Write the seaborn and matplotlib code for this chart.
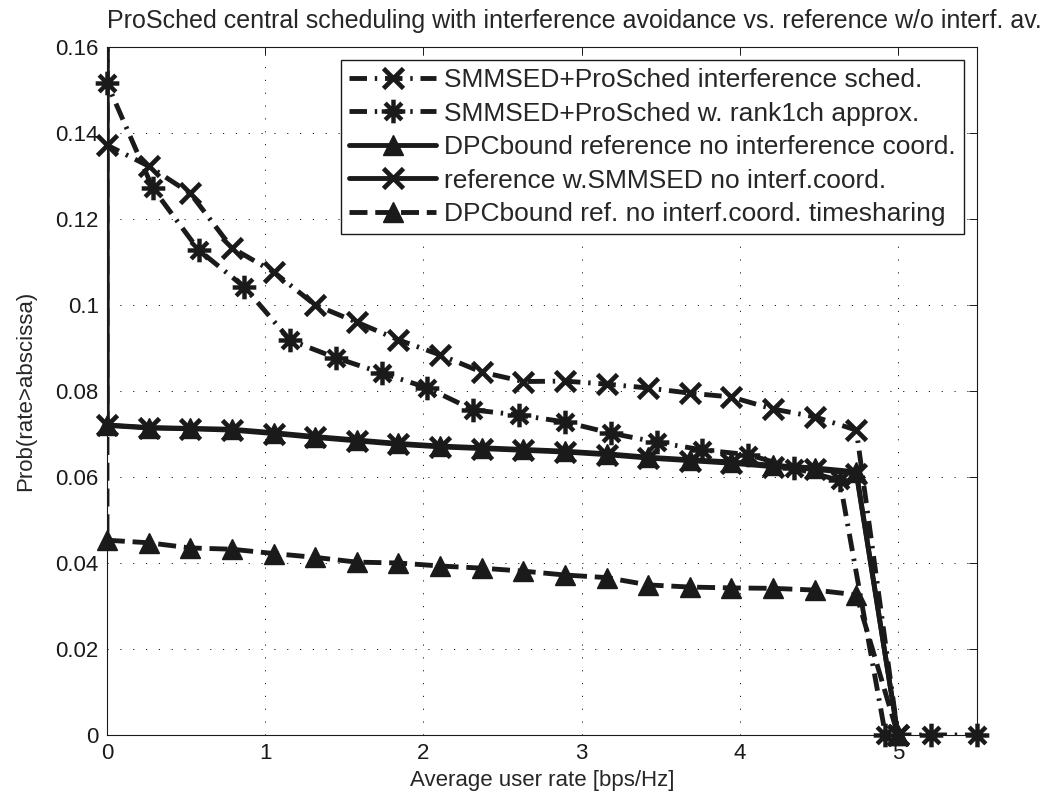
import matplotlib
matplotlib.use("Agg")
import matplotlib.pyplot as plt
from matplotlib.path import Path
from matplotlib.lines import Line2D
from matplotlib.ticker import FuncFormatter
import seaborn as sns

# ---- data -------------------------------------------------------------
# rate grid shared by the ProSched X-curve and the reference curves
rate_grid = [0.0, 0.263, 0.526, 0.789, 1.053, 1.316, 1.579, 1.842, 2.105, 2.368,
             2.632, 2.895, 3.158, 3.421, 3.684, 3.947, 4.211, 4.474, 4.737, 5.0]
# rate grid of the rank-1 approximation curve
rate_grid_r1 = [0.0, 0.289, 0.579, 0.868, 1.158, 1.447, 1.737, 2.026, 2.316, 2.605,
                2.895, 3.184, 3.474, 3.763, 4.053, 4.342, 4.632, 4.921, 5.211, 5.5]

# probability that rate exceeds abscissa (curves start at 1 for rate 0)
prob_at_zero = 1.0

prosched_interf = [0.1372, 0.1323, 0.1260, 0.1133, 0.1077, 0.1000, 0.0960, 0.0919,
                   0.0884, 0.0844, 0.0822, 0.0823, 0.0816, 0.0807, 0.0795, 0.0786,
                   0.0758, 0.0740, 0.0709, 0.0]
prosched_rank1 = [0.1516, 0.1272, 0.1128, 0.1042, 0.0918, 0.0877, 0.0842, 0.0807,
                  0.0756, 0.0744, 0.0728, 0.0702, 0.0681, 0.0663, 0.0652, 0.0621,
                  0.0592, 0.0, 0.0, 0.0]
dpc_reference = [0.0721, 0.0715, 0.0713, 0.0711, 0.0703, 0.0694, 0.0686, 0.0678,
                 0.0672, 0.0668, 0.0664, 0.0660, 0.0654, 0.0646, 0.0640, 0.0635,
                 0.0627, 0.0621, 0.0612, 0.0]
smmsed_reference = [0.0720, 0.0714, 0.0712, 0.0709, 0.0701, 0.0692, 0.0684, 0.0676,
                    0.0670, 0.0666, 0.0662, 0.0658, 0.0652, 0.0644, 0.0638, 0.0632,
                    0.0624, 0.0618, 0.0608, 0.0]
dpc_timesharing = [0.0453, 0.0447, 0.0435, 0.0432, 0.0422, 0.0413, 0.0402, 0.0400,
                   0.0393, 0.0388, 0.0381, 0.0372, 0.0366, 0.0349, 0.0344, 0.0342,
                   0.0341, 0.0337, 0.0326, 0.0]

labels = ["SMMSED+ProSched interference sched.",
          "SMMSED+ProSched w. rank1ch approx.",
          "DPCbound reference no interference coord.",
          "reference w.SMMSED no interf.coord.",
          "DPCbound ref. no interf.coord. timesharing"]

title = "ProSched central scheduling with interference avoidance vs. reference w/o interf. av."
xlabel = "Average user rate [bps/Hz]"
ylabel = "Prob(rate>abscissa)"
xticks = [0, 1, 2, 3, 4, 5]
yticks = [0, 0.02, 0.04, 0.06, 0.08, 0.1, 0.12, 0.14, 0.16]

# ---- styling ----------------------------------------------------------
sns.set_theme(style="white")
plt.rcParams['font.family'] = ['Liberation Sans', 'DejaVu Sans']
plt.rcParams['font.size'] = 16

# eight-armed asterisk marker
_c = 0.7071
asterisk = Path([(0, -1), (0, 1), (-1, 0), (1, 0),
                 (-_c, -_c), (_c, _c), (-_c, _c), (_c, -_c)],
                [Path.MOVETO, Path.LINETO] * 4)

LW = 3.5
dashdot = (0, (3.6, 1.6, 0.5, 1.6))
dashed = (0, (3.7, 1.6))

series = [
    (rate_grid, prosched_interf, dashdot, "x", 15, 3.4),
    (rate_grid_r1, prosched_rank1, dashdot, asterisk, 17, 3.2),
    (rate_grid, dpc_reference, "-", "^", 14.5, 1.0),
    (rate_grid, smmsed_reference, "-", "x", 15, 3.4),
    (rate_grid, dpc_timesharing, dashed, "^", 14.5, 1.0),
]

fig = plt.figure(figsize=(10.5, 8.05), dpi=100)
ax = fig.add_axes([0.1019, 0.0870, 0.8286, 0.8546])

handles = []
for i, (xs, ys, ls, mk, ms, mew) in enumerate(series):
    z = 3 + i
    # curve, including the initial jump from 1 at rate 0
    sns.lineplot(x=[xs[0]] + list(xs), y=[prob_at_zero] + list(ys), ax=ax,
                 estimator=None, sort=False, color="k", lw=LW, linestyle=ls,
                 zorder=z, legend=False)
    # markers at the sampled rates, not clipped at the axes border
    sns.lineplot(x=xs, y=ys, ax=ax, estimator=None, sort=False, color="k",
                 linestyle="none", marker=mk, markersize=ms, markeredgewidth=mew,
                 markeredgecolor="k", markerfacecolor="k", clip_on=False,
                 zorder=z + 0.5, legend=False)
    handles.append(Line2D([], [], color="k", lw=LW, linestyle=ls, marker=mk,
                          markersize=ms, markeredgewidth=mew, markeredgecolor="k",
                          markerfacecolor="k"))

ax.set_xlim(0, 5.5)
ax.set_ylim(0, 0.16)
ax.set_xticks(xticks)
ax.set_yticks(yticks)
ax.yaxis.set_major_formatter(FuncFormatter(lambda v, p: f"{v:g}"))
ax.xaxis.set_major_formatter(FuncFormatter(lambda v, p: f"{v:g}"))

ax.grid(True, color="k", linestyle=(0, (1.2, 12)), linewidth=0.7)
ax.tick_params(direction="in", length=6, width=0.7, top=True, right=True,
               labelsize=16, pad=6, colors="k")
for sp in ax.spines.values():
    sp.set_visible(True)
    sp.set_color("k")
    sp.set_linewidth(0.8)

ax.set_xlabel(xlabel, fontsize=16, labelpad=4)
ax.set_ylabel(ylabel, fontsize=16, labelpad=14)
ax.set_title(title, fontsize=18, loc="left", pad=14)

leg = ax.legend(handles, labels, loc="upper right", fontsize=19, frameon=True,
                fancybox=False, framealpha=1, edgecolor="k", borderaxespad=0.5,
                handlelength=3.3, handletextpad=0.3, labelspacing=0.36,
                borderpad=0.3, numpoints=1)
leg.get_frame().set_linewidth(1.0)
leg.set_zorder(20)

fig.savefig("out.png", dpi=100)
